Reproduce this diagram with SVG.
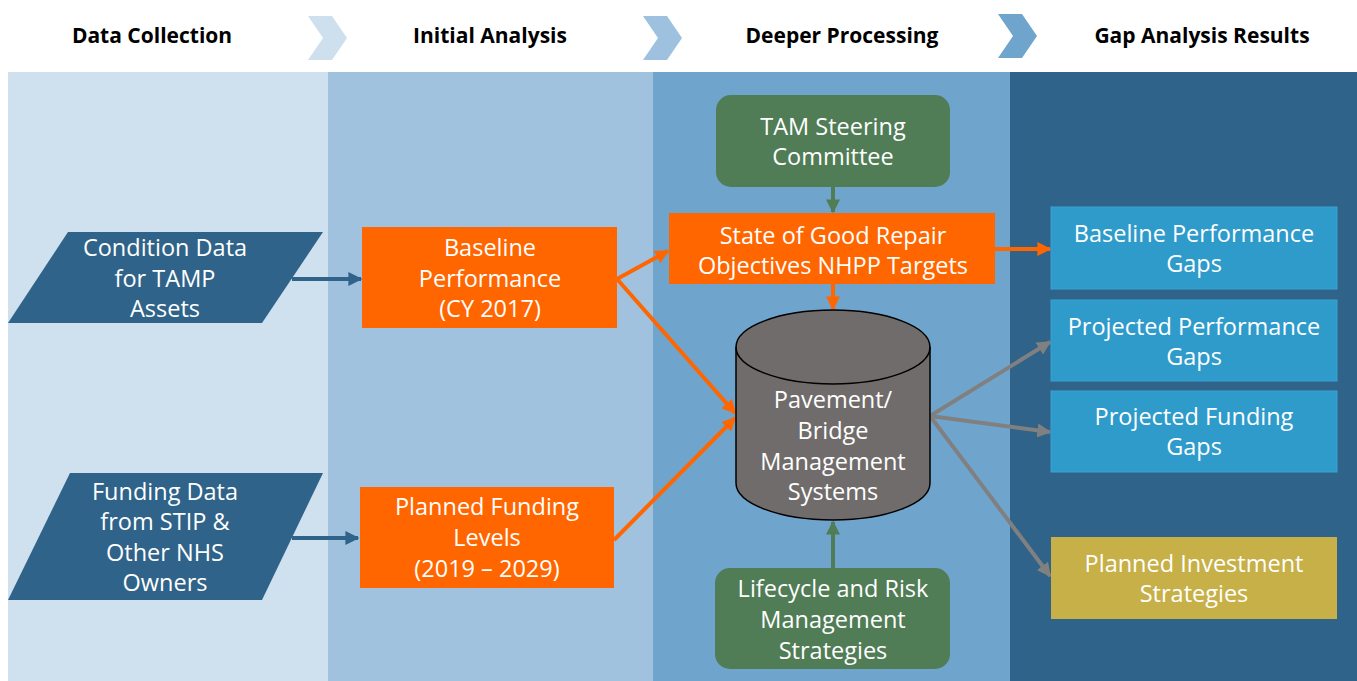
<svg xmlns="http://www.w3.org/2000/svg" width="1357" height="681" viewBox="0 0 1357 681">
  <style>
    .hdr { font-family: "Open Sans", "Noto Sans", "DejaVu Sans", sans-serif; font-weight: 700; font-size: 21px; fill: #000; text-anchor: middle; }
    .lbl { font-family: "Open Sans", "Noto Sans", "DejaVu Sans", sans-serif; font-size: 23.5px; fill: #fff; text-anchor: middle; }
    .orange { fill: #FF6600; }
    .green { fill: #507C56; }
    .blue { fill: #2E9BCB; stroke: #3AA3D3; stroke-width: 1; }
    .gold { fill: #C7B048; }
    .para { fill: #2F6389; }
    .c-orange { stroke: #FF6600; stroke-width: 4; fill: none; }
    .c-steel { stroke: #2F6389; stroke-width: 4; fill: none; }
    .c-green { stroke: #507C56; stroke-width: 4; fill: none; }
    .c-gray { stroke: #808080; stroke-width: 4; fill: none; }
  </style>
  <defs>
    <marker id="ah-orange" viewBox="0 0 10 10" refX="9" refY="5" markerWidth="14" markerHeight="14" markerUnits="userSpaceOnUse" orient="auto">
      <path d="M0,0 L10,5 L0,10 Z" fill="#FF6600"/>
    </marker>
    <marker id="ah-steel" viewBox="0 0 10 10" refX="9" refY="5" markerWidth="14" markerHeight="14" markerUnits="userSpaceOnUse" orient="auto">
      <path d="M0,0 L10,5 L0,10 Z" fill="#2F6389"/>
    </marker>
    <marker id="ah-green" viewBox="0 0 10 10" refX="9" refY="5" markerWidth="14" markerHeight="14" markerUnits="userSpaceOnUse" orient="auto">
      <path d="M0,0 L10,5 L0,10 Z" fill="#507C56"/>
    </marker>
    <marker id="ah-gray" viewBox="0 0 10 10" refX="9" refY="5" markerWidth="14" markerHeight="14" markerUnits="userSpaceOnUse" orient="auto">
      <path d="M0,0 L10,5 L0,10 Z" fill="#808080"/>
    </marker>
  </defs>

  <rect width="1357" height="681" fill="#ffffff"/>

  <!-- stage columns -->
  <g id="columns">
    <rect x="8" y="72" width="320" height="609" fill="#CFE0EE"/>
    <rect x="328" y="72" width="325" height="609" fill="#A0C2DF"/>
    <rect x="653" y="72" width="357" height="609" fill="#6FA5CD"/>
    <rect x="1010" y="72" width="347" height="609" fill="#2F6389"/>
  </g>

  <!-- stage headers with chevrons -->
  <g id="headers">
    <text class="hdr" x="152" y="43">Data Collection</text>
    <polygon points="308,16 332,16 347,38 332,60 308,60 323,38" fill="#CEDFEE"/>
    <text class="hdr" x="490" y="43">Initial Analysis</text>
    <polygon points="643,16 667,16 682,38 667,60 643,60 658,38" fill="#9DC1DE"/>
    <text class="hdr" x="842" y="43">Deeper Processing</text>
    <polygon points="998,14 1022,14 1037,36 1022,58 998,58 1013,36" fill="#6FA5CD"/>
    <text class="hdr" x="1202" y="43">Gap Analysis Results</text>
  </g>

  <!-- connectors -->
  <g id="connectors">
    <line class="c-steel" x1="292" y1="279" x2="361" y2="279" marker-end="url(#ah-steel)"/>
    <line class="c-steel" x1="292" y1="538" x2="358" y2="538" marker-end="url(#ah-steel)"/>
    <line class="c-orange" x1="617" y1="279" x2="668" y2="251" marker-end="url(#ah-orange)"/>
    <line class="c-orange" x1="617" y1="279" x2="735" y2="413" marker-end="url(#ah-orange)"/>
    <line class="c-orange" x1="614" y1="540" x2="735" y2="418" marker-end="url(#ah-orange)"/>
    <line class="c-green" x1="833" y1="187" x2="833" y2="212" marker-end="url(#ah-green)"/>
    <line class="c-orange" x1="833" y1="284" x2="833" y2="309" marker-end="url(#ah-orange)"/>
    <line class="c-green" x1="833" y1="568" x2="833" y2="522" marker-end="url(#ah-green)"/>
    <line class="c-orange" x1="995" y1="249" x2="1050" y2="249" marker-end="url(#ah-orange)"/>
    <line class="c-gray" x1="930" y1="416" x2="1050" y2="342" marker-end="url(#ah-gray)"/>
    <line class="c-gray" x1="930" y1="416" x2="1050" y2="432" marker-end="url(#ah-gray)"/>
    <line class="c-gray" x1="930" y1="416" x2="1050" y2="576" marker-end="url(#ah-gray)"/>
  </g>

  <g id="condition-data">
    <polygon class="para" points="68,232 323,232 262,323 8,323"/>
    <text class="lbl" x="165" y="256">Condition Data</text>
    <text class="lbl" x="165" y="287">for TAMP</text>
    <text class="lbl" x="165" y="317">Assets</text>
  </g>

  <g id="funding-data">
    <polygon class="para" points="70,473 323,473 262,600 8,600"/>
    <text class="lbl" x="165" y="500">Funding Data</text>
    <text class="lbl" x="165" y="530">from STIP &amp;</text>
    <text class="lbl" x="165" y="561">Other NHS</text>
    <text class="lbl" x="165" y="591">Owners</text>
  </g>

  <g id="baseline-performance">
    <rect class="orange" x="362" y="227" width="255" height="101"/>
    <text class="lbl" x="490" y="256">Baseline</text>
    <text class="lbl" x="490" y="287">Performance</text>
    <text class="lbl" x="490" y="317">(CY 2017)</text>
  </g>

  <g id="planned-funding">
    <rect class="orange" x="360" y="487" width="254" height="101"/>
    <text class="lbl" x="487" y="515">Planned Funding</text>
    <text class="lbl" x="487" y="546">Levels</text>
    <text class="lbl" x="487" y="577">(2019 – 2029)</text>
  </g>

  <g id="tam-steering">
    <rect class="green" x="716" y="95" width="234" height="92" rx="15"/>
    <text class="lbl" x="833" y="135">TAM Steering</text>
    <text class="lbl" x="833" y="165">Committee</text>
  </g>

  <g id="state-of-good-repair">
    <rect class="orange" x="669" y="213" width="326" height="71"/>
    <text class="lbl" x="833" y="244">State of Good Repair</text>
    <text class="lbl" x="833" y="274">Objectives NHPP Targets</text>
  </g>

  <g id="management-systems">
    <path d="M736,347 A97,37 0 0 1 930,347 L930,483 A97,37 0 0 1 736,483 Z" fill="#706C6B" stroke="#000" stroke-width="1.5"/>
    <path d="M736,347 A97,37 0 0 0 930,347" fill="none" stroke="#000" stroke-width="1.5"/>
    <text class="lbl" x="833" y="408">Pavement/</text>
    <text class="lbl" x="833" y="439">Bridge</text>
    <text class="lbl" x="833" y="470">Management</text>
    <text class="lbl" x="833" y="500">Systems</text>
  </g>

  <g id="lifecycle-risk">
    <rect class="green" x="715" y="568" width="235" height="101" rx="15"/>
    <text class="lbl" x="833" y="597">Lifecycle and Risk</text>
    <text class="lbl" x="833" y="628">Management</text>
    <text class="lbl" x="833" y="659">Strategies</text>
  </g>

  <g id="baseline-gaps">
    <rect class="blue" x="1051" y="207" width="286" height="82"/>
    <text class="lbl" x="1194" y="242">Baseline Performance</text>
    <text class="lbl" x="1194" y="272">Gaps</text>
  </g>

  <g id="projected-performance-gaps">
    <rect class="blue" x="1051" y="300" width="286" height="81"/>
    <text class="lbl" x="1194" y="335">Projected Performance</text>
    <text class="lbl" x="1194" y="365">Gaps</text>
  </g>

  <g id="projected-funding-gaps">
    <rect class="blue" x="1051" y="391" width="286" height="81"/>
    <text class="lbl" x="1194" y="425">Projected Funding</text>
    <text class="lbl" x="1194" y="455">Gaps</text>
  </g>

  <g id="planned-investment">
    <rect class="gold" x="1051" y="537" width="286" height="82"/>
    <text class="lbl" x="1194" y="572">Planned Investment</text>
    <text class="lbl" x="1194" y="602">Strategies</text>
  </g>
</svg>
